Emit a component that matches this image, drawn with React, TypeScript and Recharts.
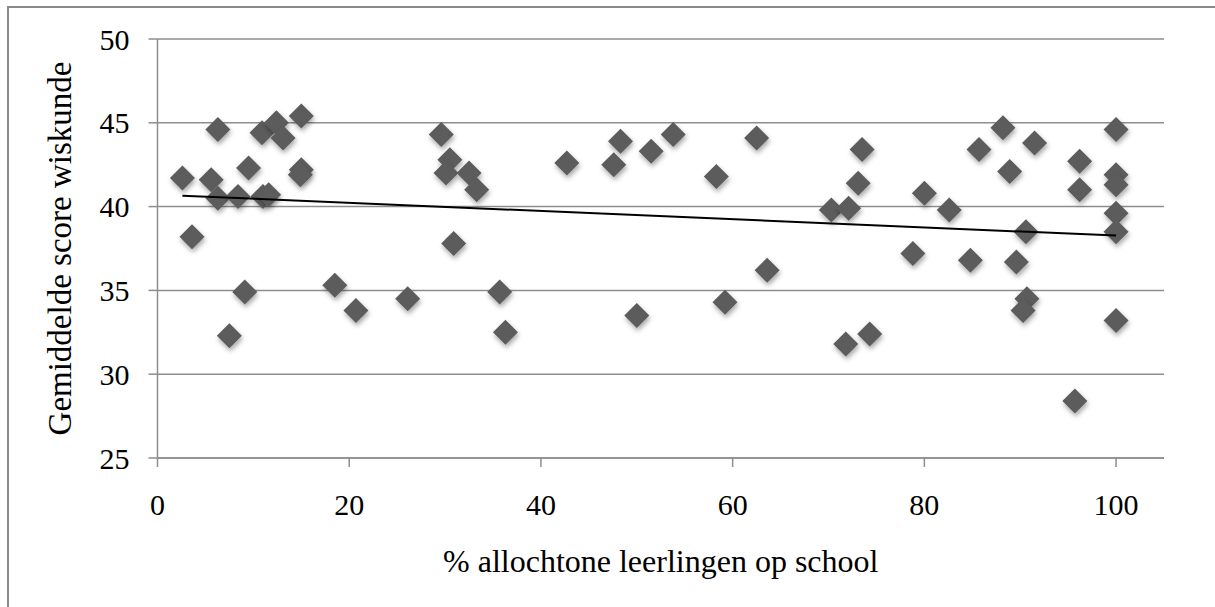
import { ScatterChart, Scatter, XAxis, YAxis, CartesianGrid } from "recharts";

// % allochtone leerlingen per school
const pctAllochtoon = [
  2.6, 3.6, 6.3, 5.6, 6.3, 8.4, 9.5, 9.1, 7.5, 10.9, 12.4, 13.1, 11.0, 11.6, 15.0, 15.0, 14.9, 18.5, 20.7,
  29.6, 30.5, 30.1, 32.5, 33.3, 30.9, 26.1, 35.7, 36.3, 42.7, 48.3, 47.6, 51.5, 53.8, 50.0,
  62.5, 58.3, 63.6, 59.2, 73.5, 73.1, 70.3, 72.1, 71.8, 74.3, 80.0, 78.8,
  82.6, 88.2, 85.7, 91.5, 88.9, 90.6, 84.8, 89.6, 90.7, 90.3, 96.2, 96.2, 95.7,
  100, 100, 100, 100, 100, 100,
];

// gemiddelde score wiskunde
const scoreWiskunde = [
  41.7, 38.2, 44.6, 41.6, 40.5, 40.6, 42.3, 34.9, 32.3, 44.4, 45.0, 44.1, 40.6, 40.7, 45.4, 42.2, 41.9, 35.3, 33.8,
  44.3, 42.8, 42.0, 42.0, 41.0, 37.8, 34.5, 34.9, 32.5, 42.6, 43.9, 42.5, 43.3, 44.3, 33.5,
  44.1, 41.8, 36.2, 34.3, 43.4, 41.4, 39.8, 39.9, 31.8, 32.4, 40.8, 37.2,
  39.8, 44.7, 43.4, 43.8, 42.1, 38.5, 36.8, 36.7, 34.5, 33.8, 42.7, 41.0, 28.4,
  44.6, 41.9, 41.3, 39.6, 38.5, 33.2,
];

// lineaire trendlijn (begin- en eindpunt)
const trendX = [2.6, 100];
const trendY = [40.65, 38.27];

const xTicks = [0, 20, 40, 60, 80, 100];
const yTicks = [25, 30, 35, 40, 45, 50];

const points = pctAllochtoon.map((x, i) => ({ x, y: scoreWiskunde[i] }));
const trend = trendX.map((x, i) => ({ x, y: trendY[i] }));

const FONT = '"Liberation Serif", "Times New Roman", serif';
const GRID = "#8e8e8e";

const Diamond = (props: any) => {
  const { cx, cy } = props;
  if (cx == null || cy == null) return <g />;
  const r = 12.5;
  return (
    <polygon
      points={`${cx},${cy - r} ${cx + r},${cy} ${cx},${cy + r} ${cx - r},${cy}`}
      fill="#5b5b5b"
      filter="url(#diamondShadow)"
    />
  );
};

const YTitle = (props: any) => {
  const { viewBox } = props;
  const cy = viewBox.y + viewBox.height / 2;
  return (
    <text x={71} y={cy} transform={`rotate(-90, 71, ${cy})`} textAnchor="middle" fontSize={33} fontFamily={FONT} fill="#000">
      Gemiddelde score wiskunde
    </text>
  );
};

const XTitle = (props: any) => {
  const { viewBox } = props;
  return (
    <text x={viewBox.x + viewBox.width / 2} y={572} textAnchor="middle" fontSize={32} fontFamily={FONT} fill="#000">
      % allochtone leerlingen op school
    </text>
  );
};

export default function App() {
  return (
    <div style={{ position: "absolute", left: 0, top: 0, width: 1215, height: 607, overflow: "hidden", background: "#fff" }}>
      <svg width={0} height={0} style={{ position: "absolute" }}>
        <defs>
          <filter id="diamondShadow" x="-50%" y="-50%" width="200%" height="200%">
            <feDropShadow dx={1} dy={3} stdDeviation={2.5} floodColor="#000" floodOpacity={0.35} />
          </filter>
        </defs>
      </svg>
      <div
        style={{
          position: "absolute",
          left: 7,
          top: 6,
          width: 1215,
          height: 607,
          borderTop: "2px solid #8a8a8a",
          borderLeft: "2px solid #8a8a8a",
        }}
      />
      <div style={{ position: "absolute", left: 0, top: 0 }}>
        <ScatterChart width={1215} height={607} margin={{ top: 39, right: 51, left: 7.5, bottom: 49 }}>
          <CartesianGrid vertical={false} stroke={GRID} strokeWidth={1.5} />
          <XAxis
            type="number"
            dataKey="x"
            domain={[0, 105]}
            ticks={xTicks}
            allowDataOverflow
            height={100}
            tickSize={9}
            tickMargin={27}
            stroke={GRID}
            strokeWidth={1.5}
            tick={{ fill: "#000", fontSize: 30, fontFamily: FONT }}
            label={<XTitle />}
          />
          <YAxis
            type="number"
            dataKey="y"
            domain={[25, 50]}
            ticks={yTicks}
            allowDataOverflow
            width={150}
            tickSize={9}
            tickMargin={19}
            stroke={GRID}
            strokeWidth={1.5}
            tick={{ fill: "#000", fontSize: 30, fontFamily: FONT }}
            label={<YTitle />}
          />
          <Scatter data={points} shape={<Diamond />} isAnimationActive={false} />
          <Scatter
            data={trend}
            line={{ stroke: "#000", strokeWidth: 2 }}
            lineType="joint"
            shape={() => <g />}
            isAnimationActive={false}
          />
        </ScatterChart>
      </div>
    </div>
  );
}
